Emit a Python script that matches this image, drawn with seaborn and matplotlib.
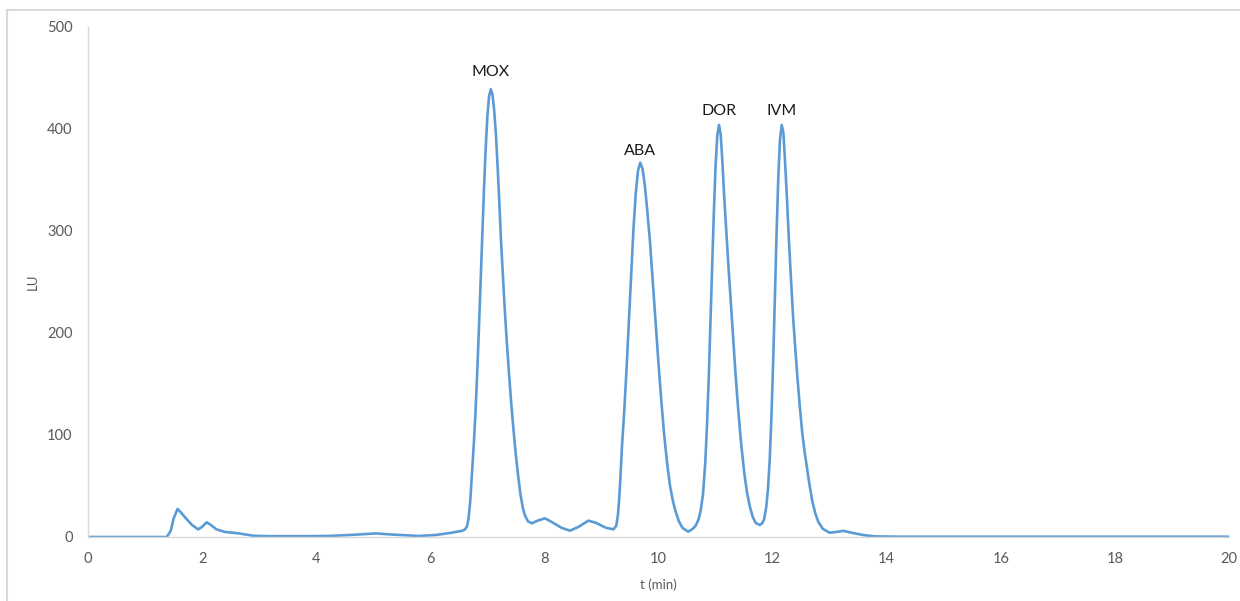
import matplotlib
matplotlib.use("Agg")
import matplotlib.pyplot as plt
from matplotlib.patches import Rectangle
import seaborn as sns
import pandas as pd

# Chromatogram trace: retention time (min) and fluorescence response (LU)
t_min = [
    0.00, 1.00, 1.38, 1.45, 1.50, 1.57, 1.63, 1.72, 1.82, 1.93, 2.00, 2.08,
    2.15, 2.25, 2.40, 2.65, 2.90, 3.20, 3.80, 4.20, 4.60, 5.05, 5.30, 5.80,
    6.10, 6.35, 6.55, 6.60, 6.64, 6.67, 6.70, 6.73, 6.76, 6.79, 6.82, 6.85,
    6.88, 6.91, 6.94, 6.97, 7.00, 7.03, 7.06, 7.09, 7.12, 7.15, 7.18, 7.21,
    7.24, 7.27, 7.30, 7.34, 7.38, 7.42, 7.46, 7.50, 7.54, 7.58, 7.62, 7.66,
    7.71, 7.78, 7.88, 8.01, 8.12, 8.30, 8.45, 8.60, 8.77, 8.90, 9.08, 9.21,
    9.26, 9.29, 9.32, 9.36, 9.40, 9.44, 9.48, 9.52, 9.56, 9.60, 9.64, 9.68,
    9.72, 9.76, 9.80, 9.85, 9.90, 9.95, 10.00, 10.05, 10.10, 10.15, 10.20,
    10.25, 10.30, 10.36, 10.42, 10.52, 10.60, 10.65, 10.70, 10.74, 10.78,
    10.82, 10.85, 10.88, 10.91, 10.94, 10.97, 11.00, 11.03, 11.06, 11.09,
    11.12, 11.15, 11.19, 11.23, 11.27, 11.31, 11.35, 11.39, 11.43, 11.47,
    11.51, 11.55, 11.60, 11.65, 11.70, 11.77, 11.81, 11.85, 11.89, 11.92,
    11.95, 11.98, 12.01, 12.04, 12.07, 12.10, 12.13, 12.16, 12.19, 12.22,
    12.25, 12.28, 12.32, 12.36, 12.40, 12.44, 12.48, 12.52, 12.56, 12.60,
    12.65, 12.70, 12.75, 12.80, 12.88, 13.00, 13.12, 13.24, 13.40, 13.60,
    13.80, 14.20, 20.00,
]
lu = [
    0.0, 0.0, 0.0, 6.0, 18.0, 27.5, 24.0, 18.0, 12.0, 7.5, 10.0, 14.4,
    12.0, 7.5, 5.0, 3.5, 1.2, 0.8, 0.8, 1.0, 2.0, 3.5, 2.5, 1.0,
    2.0, 4.0, 6.0, 7.0, 10.0, 18.0, 35.0, 62.0, 89.0, 120.0, 158.0, 201.0,
    247.0, 295.0, 340.0, 380.0, 412.0, 432.0, 439.0, 434.0, 418.0, 395.0, 363.0, 328.0,
    290.0, 258.0, 228.0, 192.0, 160.0, 130.0, 104.0, 80.0, 60.0, 42.0, 29.0, 21.0,
    15.5, 13.4, 16.0, 18.3, 15.0, 9.0, 6.2, 10.0, 16.0, 14.0, 9.0, 7.5,
    11.0, 22.0, 45.0, 89.0, 124.0, 165.0, 211.0, 257.0, 301.0, 336.0, 359.0, 367.0,
    361.0, 345.0, 322.0, 290.0, 250.0, 210.0, 170.0, 133.0, 100.0, 73.0, 51.0,
    36.0, 25.0, 15.0, 9.0, 5.2, 8.0, 11.0, 17.0, 26.0, 42.0,
    73.0, 110.0, 155.0, 208.0, 264.0, 318.0, 363.0, 393.0, 404.0, 395.0,
    368.0, 335.0, 298.0, 262.0, 228.0, 193.0, 160.0, 130.0, 103.0, 80.0,
    60.0, 44.0, 30.0, 20.0, 14.0, 11.8, 13.0, 17.0, 30.0, 48.0,
    76.0, 119.0, 172.0, 234.0, 298.0, 353.0, 390.0, 404.0, 396.0, 366.0,
    334.0, 298.0, 255.0, 215.0, 183.0, 153.0, 126.0, 102.0, 84.0, 69.0,
    50.0, 34.0, 23.0, 15.0, 8.0, 4.2, 5.0, 6.0, 4.0, 1.8,
    0.6, 0.3, 0.3,
]

# Peak labels placed above each apex
peak_names = ["MOX", "ABA", "DOR", "IVM"]
peak_times = [7.06, 9.68, 11.06, 12.16]
peak_heights = [439.0, 367.0, 404.0, 404.0]
label_offsets = [7.5, 3.5, 5.0, 5.0]  # points above apex

x_ticks = [0, 2, 4, 6, 8, 10, 12, 14, 16, 18, 20]
y_ticks = [0, 100, 200, 300, 400, 500]

sns.set_style("white")
plt.rcParams["font.family"] = ["Lato", "DejaVu Sans"]

fig = plt.figure(figsize=(12.4, 6.01), dpi=100)
ax = fig.add_axes([88 / 1240, 1 - 537 / 601, (1229 - 88) / 1240, (537 - 27) / 601])

df = pd.DataFrame({"t (min)": t_min, "LU": lu})
sns.lineplot(data=df, x="t (min)", y="LU", ax=ax, color="#5B9BD5",
             linewidth=1.9, sort=False, estimator=None)

for name, t, h, off in zip(peak_names, peak_times, peak_heights, label_offsets):
    ax.annotate(name, xy=(t, h), xytext=(0, off), textcoords="offset points",
                ha="center", va="bottom", fontsize=11.5, color="#1a1a1a")

ax.set_xlim(0, 20)
ax.set_ylim(0, 500)
ax.set_xticks(x_ticks)
ax.set_yticks(y_ticks)

grey = "#d9d9d9"
for side in ["top", "right"]:
    ax.spines[side].set_visible(False)
for side in ["left", "bottom"]:
    ax.spines[side].set_color(grey)
    ax.spines[side].set_linewidth(1.0)

ax.tick_params(axis="both", which="major", direction="out", length=5,
               width=1.0, color=grey, labelsize=10.5, labelcolor="#595959")
ax.tick_params(axis="x", pad=6)
ax.tick_params(axis="y", pad=6)

ax.set_xlabel("t (min)", fontsize=9.5, color="#595959", labelpad=9)
ax.set_ylabel("LU", fontsize=9.5, color="#595959", labelpad=6)

# Thin chart-area frame
fig.patches.append(Rectangle((7 / 1240, -0.05), 1.1, 1 - 10 / 601 + 0.05,
                             transform=fig.transFigure, fill=False,
                             edgecolor=grey, linewidth=1.5, zorder=0))

fig.savefig("out.png", dpi=100, facecolor="white")
